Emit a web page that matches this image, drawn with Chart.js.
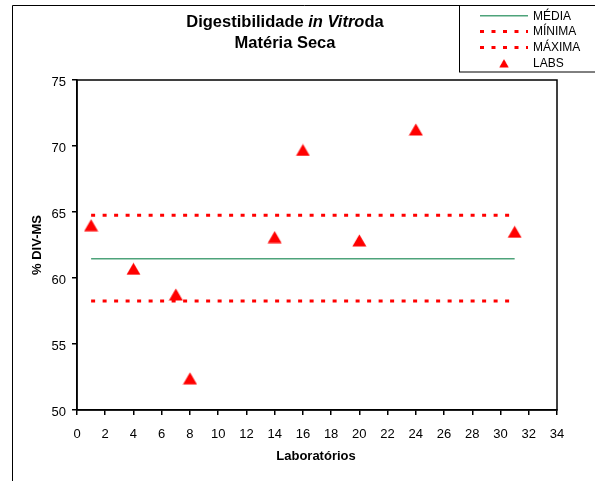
<!DOCTYPE html>
<html><head><meta charset="utf-8">
<script src="https://cdn.jsdelivr.net/npm/chart.js@4/dist/chart.umd.min.js"></script>
<style>html,body{margin:0;padding:0;background:#fff}#wrap{position:relative;width:595px;height:481px}</style>
</head><body><div id="wrap"><canvas id="c" width="595" height="481"></canvas></div>
<script>
// ---- data ----
const labs = [1, 4, 7, 8, 14, 16, 20, 24, 31];
const labValues = [64.0, 60.7, 58.75, 52.4, 63.1, 69.7, 62.85, 71.25, 63.5];
const mediaValues = [61.45, 61.45, 61.45, 61.45, 61.45, 61.45, 61.45, 61.45, 61.45];
const minimaValues = [58.25, 58.25, 58.25, 58.25, 58.25, 58.25, 58.25, 58.25, 58.25];
const maximaValues = [64.75, 64.75, 64.75, 64.75, 64.75, 64.75, 64.75, 64.75, 64.75];
const xTicks = [0, 2, 4, 6, 8, 10, 12, 14, 16, 18, 20, 22, 24, 26, 28, 30, 32, 34];
const yTicks = [50, 55, 60, 65, 70, 75];
const seriesNames = ['MÉDIA', 'MÍNIMA', 'MÁXIMA', 'LABS'];
const titleLine1 = ['Digestibilidade ', 'in Vitro', 'da'];
const titleLine2 = 'Matéria Seca';
const xTitle = 'Laboratórios';
const yTitle = '% DIV-MS';

const FONT = '"Liberation Sans", Arial, sans-serif';
const pts = (vals) => labs.map((x, i) => ({ x: x, y: vals[i] }));

// triangle marker centred on its bounding box
const tri = document.createElement('canvas');
tri.width = 15; tri.height = 13;
(function () {
  const t = tri.getContext('2d');
  t.fillStyle = '#ff0000';
  t.beginPath(); t.moveTo(7.5, 0.5); t.lineTo(14.5, 12.5); t.lineTo(0.5, 12.5); t.closePath(); t.fill();
})();

const decor = {
  id: 'decor',
  afterDraw(chart) {
    const ctx = chart.ctx, a = chart.chartArea;
    ctx.save();
    // plot box
    ctx.strokeStyle = '#000'; ctx.lineWidth = 1.5; ctx.setLineDash([]);
    ctx.strokeRect(a.left, a.top, a.right - a.left, a.bottom - a.top);
    // outer frame
    ctx.lineWidth = 1;
    ctx.beginPath(); ctx.moveTo(12.5, 490); ctx.lineTo(12.5, 5.5); ctx.lineTo(600, 5.5); ctx.stroke();
    // legend box
    ctx.strokeRect(459.5, 5.5, 150, 66.5);
    ctx.font = '12px ' + FONT; ctx.textBaseline = 'middle'; ctx.textAlign = 'left'; ctx.fillStyle = '#000';
    chart.data.datasets.forEach((ds, i) => {
      const y = 15.8 + i * 15.8;
      if (ds.showLine) {
        ctx.save();
        ctx.strokeStyle = ds.borderColor; ctx.lineWidth = ds.borderWidth; ctx.setLineDash(ds.borderDash || []);
        ctx.beginPath(); ctx.moveTo(480, y); ctx.lineTo(528, y); ctx.stroke();
        ctx.restore();
      } else {
        ctx.drawImage(tri, 504 - 5, y - 4.5, 10, 9);
      }
      ctx.fillText(ds.label, 533, y + 0.5);
    });
    // title
    const f1 = 'bold 16.5px ' + FONT, f2 = 'italic bold 16.5px ' + FONT;
    const fonts = [f1, f2, f1];
    let w = 0; const ws = titleLine1.map((s, i) => { ctx.font = fonts[i]; const m = ctx.measureText(s).width; w += m; return m; });
    let x = 285 - w / 2;
    ctx.textBaseline = 'middle'; ctx.textAlign = 'left';
    titleLine1.forEach((s, i) => { ctx.font = fonts[i]; ctx.fillText(s, x, 22); x += ws[i]; });
    ctx.font = f1; ctx.textAlign = 'center'; ctx.fillText(titleLine2, 285, 43);
    // axis titles
    ctx.font = 'bold 13px ' + FONT;
    ctx.fillText(xTitle, 316, 456);
    ctx.translate(37, 245); ctx.rotate(-Math.PI / 2); ctx.fillText(yTitle, 0, 0);
    ctx.restore();
  }
};

const lineDs = (label, vals, color, width, dash, order) => ({
  label, data: pts(vals), showLine: true, borderColor: color, backgroundColor: color,
  borderWidth: width, borderDash: dash, pointRadius: 0, pointHoverRadius: 0, order, clip: false
});

new Chart(document.getElementById('c'), {
  type: 'scatter',
  data: {
    datasets: [
      lineDs(seriesNames[0], mediaValues, '#4ea37a', 1.5, [], 1),
      lineDs(seriesNames[1], minimaValues, '#ff0000', 3, [4, 7.5], 2),
      lineDs(seriesNames[2], maximaValues, '#ff0000', 3, [4, 7.5], 3),
      { label: seriesNames[3], data: pts(labValues), showLine: false, pointStyle: tri, pointRadius: 7,
        backgroundColor: '#ff0000', borderColor: '#ff0000', order: 0, clip: false }
    ]
  },
  options: {
    responsive: false, animation: false, devicePixelRatio: 1,
    layout: { padding: { left: 37, top: 80, right: 38, bottom: 41 } },
    plugins: { legend: { display: false }, title: { display: false }, tooltip: { enabled: false } },
    scales: {
      x: {
        type: 'linear', min: xTicks[0], max: xTicks[xTicks.length - 1],
        afterBuildTicks: s => { s.ticks = xTicks.map(v => ({ value: v })); },
        afterFit: s => { s.height = 30; },
        grid: { drawOnChartArea: false, tickLength: 5, color: '#000', lineWidth: 1.5 },
        border: { color: '#000', width: 1.5 },
        ticks: { color: '#000', font: { family: FONT, size: 13 }, padding: 12, maxRotation: 0, autoSkip: false }
      },
      y: {
        type: 'linear', min: yTicks[0], max: yTicks[yTicks.length - 1],
        afterBuildTicks: s => { s.ticks = yTicks.map(v => ({ value: v })); },
        afterFit: s => { s.width = 40; },
        grid: { drawOnChartArea: false, tickLength: 5, color: '#000', lineWidth: 1.5 },
        border: { color: '#000', width: 1.5 },
        ticks: { color: '#000', font: { family: FONT, size: 13 }, padding: 6, labelOffset: 2 }
      }
    }
  },
  plugins: [decor]
});
</script></body></html>
